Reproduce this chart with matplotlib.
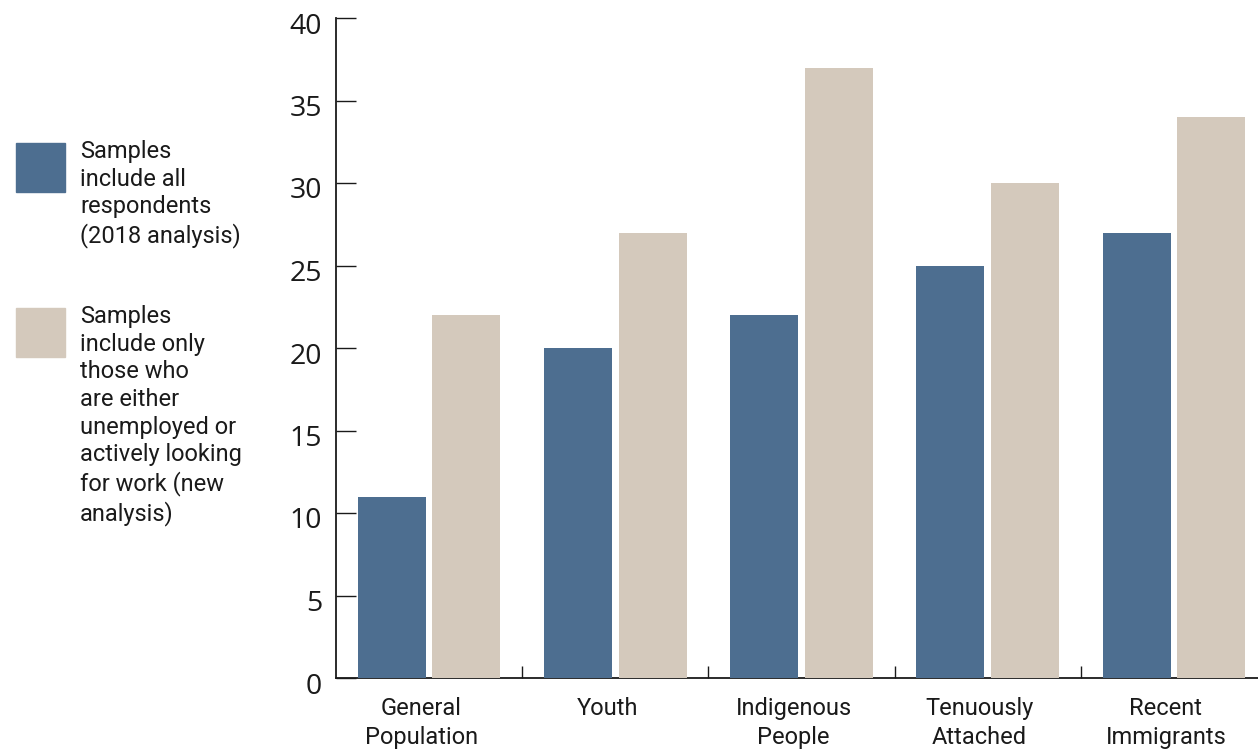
import matplotlib.pyplot as plt
import numpy as np
from matplotlib.patches import Rectangle
from matplotlib.ticker import FixedLocator
from matplotlib.transforms import ScaledTranslation

# Category names and the two sample definitions
categories = ['General\nPopulation', 'Youth', 'Indigenous\nPeople', 'Tenuously\nAttached', 'Recent\nImmigrants']
all_respondents = [11, 20, 22, 25, 27]
unemployed_or_looking = [22, 27, 37, 30, 34]
y_ticks = [0, 5, 10, 15, 20, 25, 30, 35, 40]

legend_labels = [
    'Samples\ninclude all\nrespondents\n(2018 analysis)',
    'Samples\ninclude only\nthose who\nare either\nunemployed or\nactively looking\nfor work (new\nanalysis)',
]

blue = '#4d6e90'
beige = '#d4c9bc'

W, H = 1258, 751
fig = plt.figure(figsize=(W / 100, H / 100), dpi=100)
ax = fig.add_axes([336 / W, 73 / H, 931 / W, 660 / H])

x = np.arange(len(categories))
width = 0.365
ax.bar(x - 0.2, all_respondents, width, color=blue, zorder=3, clip_on=False)
ax.bar(x + 0.2, unemployed_or_looking, width, color=beige, zorder=3, clip_on=False)

ax.set_xlim(-0.5, len(categories) - 0.5)
ax.set_ylim(0, 40)

for side in ['top', 'right']:
    ax.spines[side].set_visible(False)
for side in ['left', 'bottom']:
    ax.spines[side].set_linewidth(1.3)
    ax.spines[side].set_color('#1a1a1a')

ax.set_yticks(y_ticks)
ax.set_yticklabels([str(v) for v in y_ticks], fontfamily='Open Sans', fontsize=20.5)
ax.tick_params(axis='y', direction='in', length=14.5, width=1.0, pad=10, colors='#1a1a1a')
shift_down = ScaledTranslation(0, -5 / 100, fig.dpi_scale_trans)
for lbl in ax.get_yticklabels():
    lbl.set_transform(lbl.get_transform() + shift_down)

ax.set_xticks(x)
ax.set_xticklabels(categories, fontfamily='Roboto', fontsize=17, linespacing=1.3)
ax.tick_params(axis='x', which='major', length=0, pad=14, colors='#1a1a1a')
shift_left = ScaledTranslation(-8 / 100, 0, fig.dpi_scale_trans)
for lbl in ax.get_xticklabels():
    lbl.set_transform(lbl.get_transform() + shift_left)
ax.xaxis.set_minor_locator(FixedLocator(x[:-1] + 0.5))
ax.tick_params(axis='x', which='minor', direction='in', length=8.5, width=1.0, color='#1a1a1a')

# Legend built from squares and wrapped text on the left
for top, color, label in [(143, blue, legend_labels[0]), (308, beige, legend_labels[1])]:
    fig.patches.append(Rectangle((16 / W, 1 - (top + 49) / H), 49 / W, 49 / H,
                                 transform=fig.transFigure, color=color))
    fig.text(80 / W, 1 - (top - 3) / H, label, fontfamily='Roboto', fontsize=17,
             linespacing=1.26, va='top', ha='left', color='#1a1a1a')

fig.savefig('out.png', dpi=100)
